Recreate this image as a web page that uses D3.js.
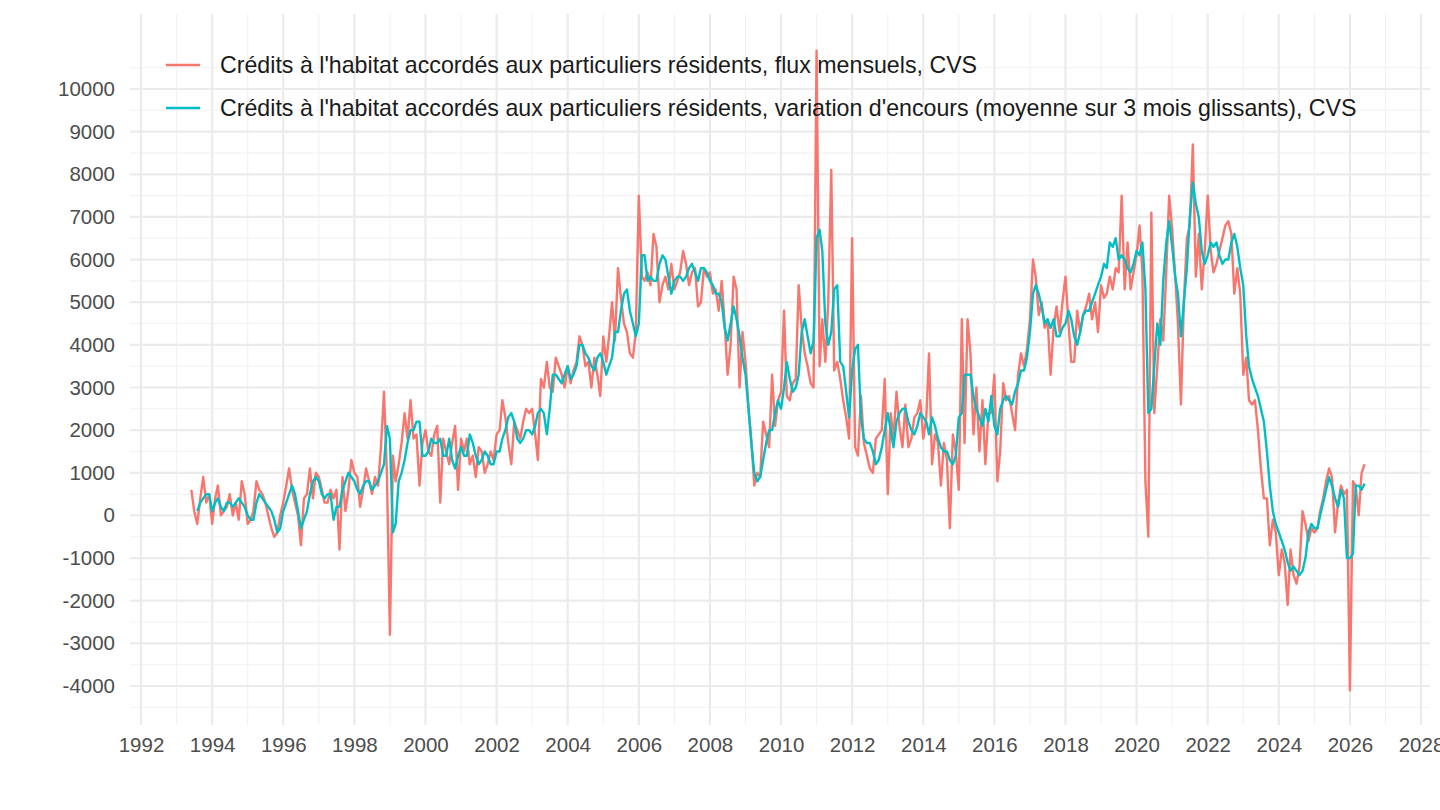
<!DOCTYPE html>
<html><head><meta charset="utf-8">
<script src="https://cdn.jsdelivr.net/npm/d3@7"></script>
<style>body{margin:0;background:#fff}svg{font-family:"Liberation Sans",Arial,sans-serif}</style>
</head><body><svg id="c" width="1440" height="810"></svg>
<script>
// flux mensuels, CVS — à partir de 1993-06
const fluxStart = [1993, 6];
const flux = [
  600,100,-200,400,900,300,500,
  -200,400,700,0,100,200,500,0,300,-100,800,500,-200,
  -100,100,800,600,500,300,0,-300,-500,-400,0,300,700,
  1100,600,300,0,-700,400,500,1100,400,1000,900,600,300,
  300,600,400,600,-800,900,100,600,1300,1000,900,200,600,
  1100,800,500,900,700,1600,2900,1000,-2800,1400,800,1200,
  1700,2400,1800,2700,1800,1900,700,1700,2000,1500,1400,1900,
  2100,300,1800,1500,1200,1700,2100,600,1800,1500,1800,1200,
  1400,900,1600,1500,1000,1200,1500,1300,1900,2000,2700,2300,
  1700,1200,2200,2000,1800,2200,2500,2400,2500,1900,1300,3200,
  3000,3600,3000,2900,3700,3500,3300,3000,3500,3100,3400,3600,4200,
  4000,3500,3600,3000,3700,3300,2800,4200,3600,4200,5000,4100,
  5800,5100,4500,4300,3800,3700,4300,7500,5600,5500,5700,5400,6600,
  6300,5000,5400,5600,5300,5900,5300,5500,5700,6200,5900,5400,
  5700,5800,4900,5000,5800,5600,5700,5200,5300,4800,5500,4500,
  3300,4000,5600,5300,3000,4300,3600,2500,1800,700,1000,
  900,2200,1900,1600,3300,2100,2700,2900,4800,2800,2700,3100,
  3200,5400,4400,3800,3500,3100,3000,10900,3500,4600,3600,5000,
  8100,3400,3600,3200,2700,2300,1800,6500,1600,1400,2800,1700,
  1400,1100,1000,1800,1900,2000,3200,500,2400,1800,2900,2100,1600,
  2600,1600,1800,2300,2400,2700,1800,2300,3800,1200,1900,1700,
  700,1700,1300,-300,1900,1500,600,4600,1700,4600,3800,1900,
  3000,1500,2700,1200,2400,2400,3300,800,1500,3100,2700,
  2800,2400,2000,3300,3800,3500,3900,4600,6000,5600,4700,
  5000,4400,4600,3300,4400,4900,4300,5000,5600,4500,3600,3600,
  4800,4300,4700,4900,5200,4600,5000,4300,5400,5100,5200,5600,
  5300,5800,5700,7500,5300,6400,5300,5700,
  6100,6800,5700,800,-500,7100,2400,3500,4600,4100,5700,7500,
  6700,5600,4500,2600,5000,6500,6800,8700,5600,6600,5300,6200,
  7500,6200,5700,5900,6200,6500,6800,6900,6600,5200,5800,5200,
  3300,3700,2700,2600,2700,2000,1100,400,400,-700,
  -100,-400,-1400,-800,-1100,-2100,-800,-1400,-1600,-1200,100,-200,
  -600,-300,-400,-300,100,400,800,1100,900,-400,300,700,500,600,-4100,
  800,700,0,1000,1200
];
// variation d'encours (moyenne 3 mois), CVS — à partir de 1993-08
const encoursStart = [1993, 8];
const encours = [
  100,300,400,500,500,
  100,300,400,200,100,300,300,200,300,400,300,200,0,
  -100,-100,300,500,400,300,200,100,-100,-400,-300,100,300,500,
  700,500,100,-300,-100,100,500,800,900,800,500,400,
  500,500,-100,200,200,600,800,1000,900,800,600,500,700,
  800,800,600,700,800,1000,1200,2100,1800,-400,-200,800,1000,1300,
  1700,2000,2000,2200,2200,1400,1400,1500,1800,1700,1700,1800,
  1400,1400,1800,1300,1100,1400,1600,1400,1400,1900,1700,1400,
  1200,1300,1500,1400,1200,1200,1500,1500,1800,2000,2300,2400,
  2200,1800,1700,1800,2000,2000,1900,2100,2400,2500,2400,1900,
  2500,3300,3300,3200,3100,3300,3500,3200,3300,3500,4000,4000,
  3800,3700,3500,3400,3700,3800,3600,3300,3500,3700,4300,4300,
  4800,5200,5300,4800,4500,4200,4500,6100,6100,5500,5600,5500,
  5500,5900,6100,6000,5600,5200,5500,5600,5600,5500,5600,5800,
  5900,5700,5500,5800,5800,5700,5500,5400,5200,5200,5000,4400,
  4100,4500,4900,4600,4200,3700,3300,2500,1700,1000,800,
  900,1300,1700,2000,2000,2400,2700,2500,3000,3600,3200,2900,
  3000,3300,4300,4600,4200,3800,4100,6500,6700,6200,4500,4000,
  4300,5300,5400,3600,3500,2900,2300,3400,3900,4000,2300,1800,
  1700,1700,1500,1200,1300,1600,2000,2400,2000,1600,2200,2400,
  2500,2500,2200,2000,1900,2100,2400,2300,2200,1900,2300,2100,
  1800,1600,1500,1500,1300,1200,1400,2300,2400,3300,3300,3300,
  2800,2500,2300,2100,2500,2200,2800,2100,1900,2500,2700,
  2800,2700,2600,2900,3100,3400,3400,3700,4300,5200,5400,
  5200,4900,4500,4600,4400,4600,4200,4200,4400,4500,4800,4600,
  4200,4000,4300,4700,4800,4800,5000,5200,5400,5600,5900,
  5800,6400,6300,6500,6000,6100,6000,5800,5700,5900,6200,6100,
  6400,5300,2400,2500,3500,4500,4000,5500,6400,6900,6300,5600,
  5200,4200,5000,5800,7000,7800,7300,7000,6200,5900,6100,6400,
  6300,6400,6100,5900,6000,6000,6400,6600,6300,5800,5400,4200,
  3500,3200,3000,2800,2500,2200,1500,700,100,-200,-400,-600,
  -800,-1100,-1300,-1200,-1300,-1400,-1300,-1000,-400,-200,-300,-300,
  0,300,600,900,700,400,200,600,400,-1000,-1000,-900,
  700,700,600,750
];
const seriesNames = [
  "Crédits à l'habitat accordés aux particuliers résidents, flux mensuels, CVS",
  "Crédits à l'habitat accordés aux particuliers résidents, variation d'encours (moyenne sur 3 mois glissants), CVS"
];
const colors = ["#F8766D", "#00BFC4"];
const yTicks = d3.range(-4000, 10001, 1000);
const xTickYears = d3.range(1992, 2029, 2);

function toPoints(start, vals) {
  return vals.map((v, i) => ({ date: new Date(start[0], start[1] - 1 + i, 1), v }));
}
const data = [toPoints(fluxStart, flux), toPoints(encoursStart, encours)];

const svg = d3.select('#c');
const x = d3.scaleTime().domain([new Date(1992, 0, 1), new Date(2028, 0, 1)]).range([141, 1421]);
const y = d3.scaleLinear().domain([-4000, 10000]).range([686, 89]);
const L = 130, R = 1430, T = 14, B = 725;

const grid = svg.append('g');
d3.range(-4500, 10501, 1000).forEach(v => grid.append('line')
  .attr('x1', L).attr('x2', R).attr('y1', y(v)).attr('y2', y(v))
  .attr('stroke', '#f2f2f2').attr('stroke-width', 1.1));
d3.range(1993, 2028, 2).forEach(yr => grid.append('line')
  .attr('y1', T).attr('y2', B).attr('x1', x(new Date(yr, 0, 1))).attr('x2', x(new Date(yr, 0, 1)))
  .attr('stroke', '#f2f2f2').attr('stroke-width', 1.1));
yTicks.forEach(v => grid.append('line')
  .attr('x1', L).attr('x2', R).attr('y1', y(v)).attr('y2', y(v))
  .attr('stroke', '#ebebeb').attr('stroke-width', 2.2));
xTickYears.forEach(yr => grid.append('line')
  .attr('y1', T).attr('y2', B).attr('x1', x(new Date(yr, 0, 1))).attr('x2', x(new Date(yr, 0, 1)))
  .attr('stroke', '#ebebeb').attr('stroke-width', 2.2));

const yAxis = svg.append('g').attr('transform', `translate(${L},0)`)
  .call(d3.axisLeft(y).tickValues(yTicks).tickSize(0).tickPadding(15).tickFormat(d => String(d)));
const xAxis = svg.append('g').attr('transform', `translate(0,${B})`)
  .call(d3.axisBottom(x).tickValues(xTickYears.map(yr => new Date(yr, 0, 1))).tickSize(0).tickPadding(12).tickFormat(d3.timeFormat('%Y')));
[yAxis, xAxis].forEach(a => {
  a.select('.domain').remove();
  a.selectAll('text').attr('font-size', 20.5).attr('fill', '#4d4d4d').attr('font-family', '"Liberation Sans",Arial,sans-serif');
});

const line = d3.line().x(d => x(d.date)).y(d => y(d.v));
data.forEach((s, i) => svg.append('path').datum(s).attr('d', line)
  .attr('fill', 'none').attr('stroke', colors[i]).attr('stroke-width', 2.4).attr('stroke-linejoin', 'round'));

// légende
const leg = svg.append('g');
seriesNames.forEach((n, i) => {
  const yy = 65 + i * 43;
  leg.append('line').attr('x1', 166).attr('x2', 200).attr('y1', yy).attr('y2', yy)
    .attr('stroke', colors[i]).attr('stroke-width', 2.4);
  leg.append('text').attr('x', 220).attr('y', yy + 8).attr('font-size', 23.2).attr('fill', '#1a1a1a').text(n);
});
</script></body></html>
